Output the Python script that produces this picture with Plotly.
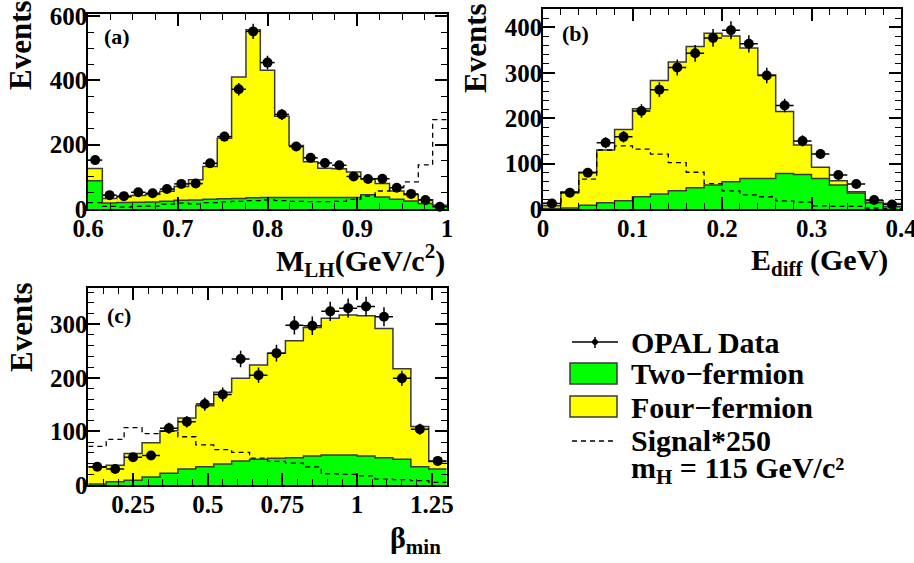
import numpy as np
import plotly.graph_objects as go

W, H = 914, 563
FONT = "Liberation Serif"

# ---------------- Panel (a): M_LH, 25 bins in [0.6, 1.0]
a_range = [0.6, 1.0]
a_data = [152, 43, 40, 52, 49, 62, 78, 79, 142, 225, 372, 552, 455, 294, 194,
          159, 143, 136, 101, 93, 94, 66, 47, 28, 7]
a_two = [88, 19, 20, 21, 22, 24, 27, 28, 30, 32, 33, 35, 36, 36, 36,
         36, 36, 36, 36, 44, 37, 30, 25, 17, 9]
a_four = [38, 14, 17, 21, 23, 31, 43, 63, 102, 188, 377, 522, 395, 252, 161,
          111, 91, 89, 79, 50, 42, 26, 19, 12, 3]
a_signal = [20, 8, 6, 8, 9, 15, 18, 16, 20, 22, 24, 26, 28, 26, 24,
            23, 23, 24, 30, 40, 56, 68, 84, 137, 278]

# ---------------- Panel (b): E_diff, 20 bins in [0, 0.4]
b_range = [0.0, 0.4]
b_data = [12, 36, 80, 146, 159, 216, 263, 312, 343, 377, 394, 364, 294, 228,
          150, 121, 75, 55, 20, 10]
b_two = [1, 2, 8, 14, 18, 27, 33, 40, 47, 53, 60, 67, 67, 78, 76, 67, 53, 35, 14, 5]
b_four = [6, 36, 73, 116, 157, 194, 250, 284, 311, 334, 321, 288, 228, 137,
          65, 25, 9, 3, 4, 7]
b_signal = [13, 36, 66, 130, 139, 132, 121, 102, 81, 56, 40, 31, 27, 18, 15,
            7, 6, 6, 2, 1]

# ---------------- Panel (c): beta_min, 20 bins in [0.1, 1.3]
c_range = [0.1, 1.3]
c_data = [34, 30, 52, 55, 106, 118, 151, 169, 235, 205, 246, 298, 297, 324,
          330, 333, 314, 199, 104, 45]
c_two = [2, 6, 9, 15, 22, 30, 34, 39, 45, 48, 50, 51, 54, 56, 56, 54, 51, 48, 34, 30]
c_four = [31, 31, 50, 64, 79, 95, 114, 134, 154, 176, 196, 218, 240, 255,
          261, 262, 241, 169, 75, 14]
c_signal = [72, 85, 107, 96, 100, 90, 75, 66, 61, 50, 44, 41, 34, 21, 20,
            17, 11, 10, 8, 5]

YELLOW = "#ffff00"
GREEN = "#00ff00"
OUTLINE = "#3a3a3a"


def px(x):
    return x / W


def py(y):
    return 1 - y / H


fig = go.Figure()


def add_panel(rng, data, two, four, signal, xa, ya):
    n = len(data)
    edges = np.linspace(rng[0], rng[1], n + 1)
    centers = (edges[:-1] + edges[1:]) / 2
    half = (rng[1] - rng[0]) / n / 2
    total = np.array(two) + np.array(four)

    def step(v):
        v = list(v)
        return v + [v[-1]]

    fig.add_trace(go.Scatter(x=edges, y=step(total), mode="lines",
                             line=dict(shape="hv", color=OUTLINE, width=1.5),
                             fill="tozeroy", fillcolor=YELLOW,
                             xaxis=xa, yaxis=ya, hoverinfo="skip"))
    fig.add_trace(go.Scatter(x=edges, y=step(two), mode="lines",
                             line=dict(shape="hv", color=OUTLINE, width=1.5),
                             fill="tozeroy", fillcolor=GREEN,
                             xaxis=xa, yaxis=ya, hoverinfo="skip"))
    fig.add_trace(go.Scatter(x=edges, y=step(signal), mode="lines",
                             line=dict(shape="hv", color="black", width=1.3,
                                       dash="5px,4px"),
                             xaxis=xa, yaxis=ya, hoverinfo="skip"))
    fig.add_trace(go.Scatter(x=centers, y=data, mode="markers",
                             marker=dict(size=10, color="black"),
                             error_x=dict(type="constant", value=half, width=0,
                                          thickness=1.5, color="black"),
                             error_y=dict(type="data", array=np.sqrt(data),
                                          width=0, thickness=1.5, color="black"),
                             cliponaxis=False, xaxis=xa, yaxis=ya))


add_panel(a_range, a_data, a_two, a_four, a_signal, "x", "y")
add_panel(b_range, b_data, b_two, b_four, b_signal, "x2", "y2")
add_panel(c_range, c_data, c_two, c_four, c_signal, "x3", "y3")

tickfont = dict(family=FONT, size=25, color="black", weight="bold")


def axis(domain, rng, dtick, tick0, mdtick, anchor, standoff):
    return dict(domain=domain, range=rng, dtick=dtick, tick0=tick0,
                ticks="inside", ticklen=12, tickwidth=1.5, tickcolor="black",
                minor=dict(ticks="inside", ticklen=6, dtick=mdtick, tick0=tick0,
                           tickwidth=1.2, tickcolor="black", showgrid=False),
                showline=True, linecolor="black", linewidth=1.5,
                mirror="allticks", showgrid=False, zeroline=False,
                automargin=False, ticklabeloverflow="allow",
                ticklabelstandoff=standoff,
                anchor=anchor, tickfont=tickfont, layer="above traces")


fig.update_layout(
    width=W, height=H, margin=dict(l=0, r=0, t=0, b=0, autoexpand=False),
    paper_bgcolor="white", plot_bgcolor="rgba(0,0,0,0)", showlegend=False,
    xaxis=axis([px(88), px(447)], a_range, 0.1, 0.6, 0.025, "y", -4),
    yaxis=axis([py(209), py(14)], [0, 606], 200, 0, 50, "x", -6),
    xaxis2=axis([px(543), px(901)], b_range, 0.1, 0.0, 0.02, "y2", -4),
    yaxis2=axis([py(209), py(9.3)], [0, 440], 100, 0, 20, "x2", -6),
    xaxis3=axis([px(88.3), px(446.7)], c_range, 0.25, 0.0, 0.05, "y3", -4),
    yaxis3=axis([py(485), py(288.3)], [0, 367], 100, 0, 20, "x3", -6),
)

ann = []


def text(x, y, s, size, xanchor="left", yanchor="middle", angle=0):
    ann.append(dict(x=px(x), y=py(y), xref="paper", yref="paper", text=s,
                    showarrow=False, xanchor=xanchor, yanchor=yanchor,
                    textangle=angle,
                    font=dict(family=FONT, size=size, color="black", weight="bold")))


# y-axis titles
text(21, 45, "Events", 31, xanchor="center", angle=-90)
text(476, 48, "Events", 31, xanchor="center", angle=-90)
text(21, 327, "Events", 31, xanchor="center", angle=-90)
# x-axis titles
text(447, 260, "M<sub>LH</sub>(GeV/c<sup>2</sup>)", 30, xanchor="right")
text(890, 262, "E<sub>diff</sub> (GeV)", 30, xanchor="right")
text(443, 540, "β<sub>min</sub>", 30, xanchor="right")
# panel labels
text(102, 36, "(a)", 22)
text(560, 33, "(b)", 22)
text(105, 315, "(c)", 22)
# legend text
text(629, 342, "OPAL Data", 30)
text(629, 373, "Two−fermion", 30)
text(629, 407, "Four−fermion", 30)
text(629, 440, "Signal*250", 30)
text(629, 470, "m<sub>H</sub> = 115 GeV/c²", 30)

fig.update_layout(annotations=ann)

shapes = [
    # data symbol
    dict(type="line", xref="paper", yref="paper", x0=px(572), x1=px(618),
         y0=py(342), y1=py(342), line=dict(color="black", width=1.5)),
    dict(type="line", xref="paper", yref="paper", x0=px(595), x1=px(595),
         y0=py(337), y1=py(348), line=dict(color="black", width=1.5)),
    dict(type="circle", xref="paper", yref="paper", x0=px(592.5), x1=px(597.5),
         y0=py(339.5), y1=py(344.5), fillcolor="black", line=dict(color="black", width=1)),
    # two-fermion box
    dict(type="rect", xref="paper", yref="paper", x0=px(570), x1=px(617),
         y0=py(384), y1=py(363), fillcolor=GREEN, line=dict(color=OUTLINE, width=1.5)),
    # four-fermion box
    dict(type="rect", xref="paper", yref="paper", x0=px(570), x1=px(617),
         y0=py(417), y1=py(396), fillcolor=YELLOW, line=dict(color=OUTLINE, width=1.5)),
    # signal dashed line
    dict(type="line", xref="paper", yref="paper", x0=px(572), x1=px(617),
         y0=py(441), y1=py(441), line=dict(color="black", width=1.3, dash="5px,4px")),
]
fig.update_layout(shapes=shapes)

fig.write_html("out.html", config={"displayModeBar": False},
               post_script="document.body.style.margin='0';document.body.style.overflow='hidden';")
